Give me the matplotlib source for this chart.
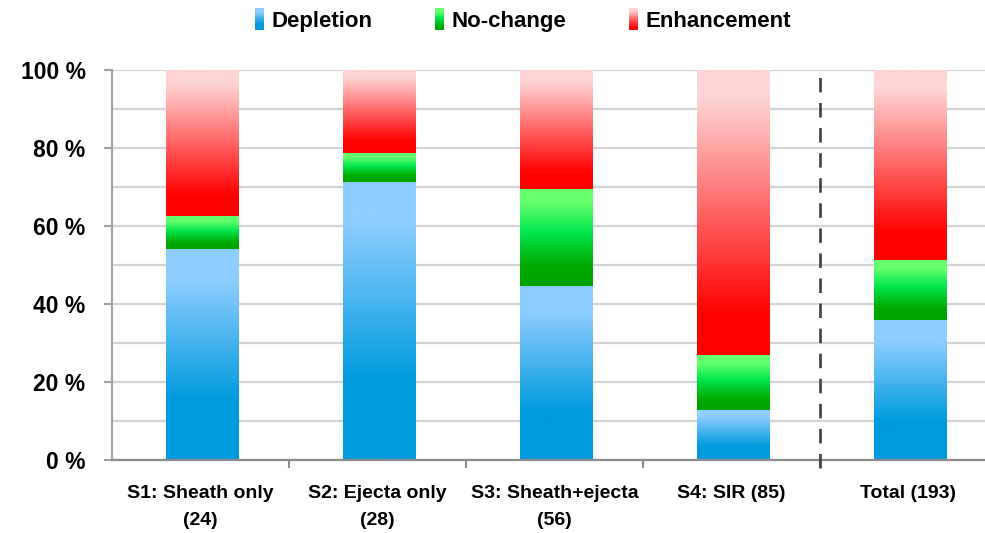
import numpy as np
import matplotlib
matplotlib.use('Agg')
import matplotlib.pyplot as plt
from matplotlib.colors import LinearSegmentedColormap
from matplotlib.patches import Rectangle
from matplotlib.legend_handler import HandlerBase

categories = ['S1: Sheath only\n(24)', 'S2: Ejecta only\n(28)', 'S3: Sheath+ejecta\n(56)',
              'S4: SIR (85)', 'Total (193)']
depletion = [54.2, 71.4, 44.6, 12.9, 35.8]
no_change = [8.3, 7.2, 25.0, 14.1, 15.5]
enhancement = [37.5, 21.4, 30.4, 73.0, 48.7]
series_names = ['Depletion', 'No-change', 'Enhancement']

plt.rcParams['font.family'] = ['Liberation Sans', 'DejaVu Sans']
plt.rcParams['font.weight'] = 'bold'

# vertical fills, dark at the bottom of each segment, light at the top
cmaps = [
    LinearSegmentedColormap.from_list('dep', [(0, '#009ade'), (0.28, '#009ade'),
                                              (0.85, '#8ecdff'), (1, '#8ecdff')]),
    LinearSegmentedColormap.from_list('noc', [(0, '#00a300'), (0.2, '#00aa00'),
                                              (0.55, '#00e64d'), (0.85, '#66ff6e'),
                                              (1, '#66ff6e')]),
    LinearSegmentedColormap.from_list('enh', [(0, '#ff0000'), (0.14, '#ff0000'),
                                              (0.9, '#ffd4d4'), (1, '#ffd4d4')]),
]


class GradientHandler(HandlerBase):
    def __init__(self, cmap):
        super().__init__()
        self.cmap = cmap

    def create_artists(self, legend, orig_handle, xdescent, ydescent,
                       width, height, fontsize, trans):
        n = 24
        out = []
        for i in range(n):
            r = Rectangle((-xdescent, -ydescent + i * height / n), width, height / n + 0.3,
                          facecolor=self.cmap((i + 0.5) / n), lw=0, transform=trans)
            out.append(r)
        return out


fig = plt.figure(figsize=(9.85, 5.33), dpi=100)
ax = fig.add_axes([112 / 985, 73 / 533, 885 / 985, 390 / 533])

x = np.arange(len(categories))
grad = np.linspace(0, 1, 256).reshape(-1, 1)
bottom = np.zeros(len(categories))
handles = []
for vals, cmap, name in zip([depletion, no_change, enhancement], cmaps, series_names):
    bars = ax.bar(x + 0.01, vals, bottom=bottom, width=0.41, color='none', lw=0, label=name)
    for rect in bars:
        x0, y0 = rect.get_x(), rect.get_y()
        ax.imshow(grad, cmap=cmap, origin='lower', aspect='auto', zorder=2,
                  extent=(x0, x0 + rect.get_width(), y0, y0 + rect.get_height()))
    handles.append(bars)
    bottom += np.array(vals)

ax.set_xlim(-0.5, len(categories) - 0.5)
ax.set_ylim(0, 100)

# dashed separator before the total
ax.plot([3.5, 3.5], [-2, 98.7], color='#404040', lw=1.9, ls=(0, (5.5, 4)),
        clip_on=False, zorder=3)

ax.set_yticks(range(0, 101, 20))
ax.set_yticks(range(0, 101, 10), minor=True)
ax.set_yticklabels([f'{v} %' for v in range(0, 101, 20)], fontsize=16.5, fontweight='bold')
ax.yaxis.grid(True, which='both', color='#d4d4d4', lw=1.6, zorder=0)
ax.set_axisbelow(True)
ax.tick_params(axis='y', which='major', length=6, width=1.5, color='#a0a0a0', pad=13)
ax.tick_params(axis='y', which='minor', length=0)

ax.set_xticks(x)
ax.set_xticklabels(categories, fontsize=14, fontweight='bold', linespacing=1.8)
ax.set_xticks(np.arange(0.5, len(categories) - 0.5), minor=True)
ax.tick_params(axis='x', which='major', length=0, pad=18)
ax.tick_params(axis='x', which='minor', length=6, width=1.5, color='#8c8c8c')

for s in ['top', 'right']:
    ax.spines[s].set_visible(False)
ax.spines['left'].set_color('#a6a6a6')
ax.spines['left'].set_linewidth(1.6)
ax.spines['bottom'].set_color('#8c8c8c')
ax.spines['bottom'].set_linewidth(1.6)

fig.legend(handles, series_names, loc='center', bbox_to_anchor=(523 / 985, 1 - 20 / 533),
           ncol=3, frameon=False, handlelength=0.4, handleheight=1.15,
           handletextpad=0.35, columnspacing=2.8,
           handler_map={h: GradientHandler(c) for h, c in zip(handles, cmaps)},
           prop={'weight': 'bold', 'size': 16})

fig.savefig('out.png', dpi=100, facecolor='white')
